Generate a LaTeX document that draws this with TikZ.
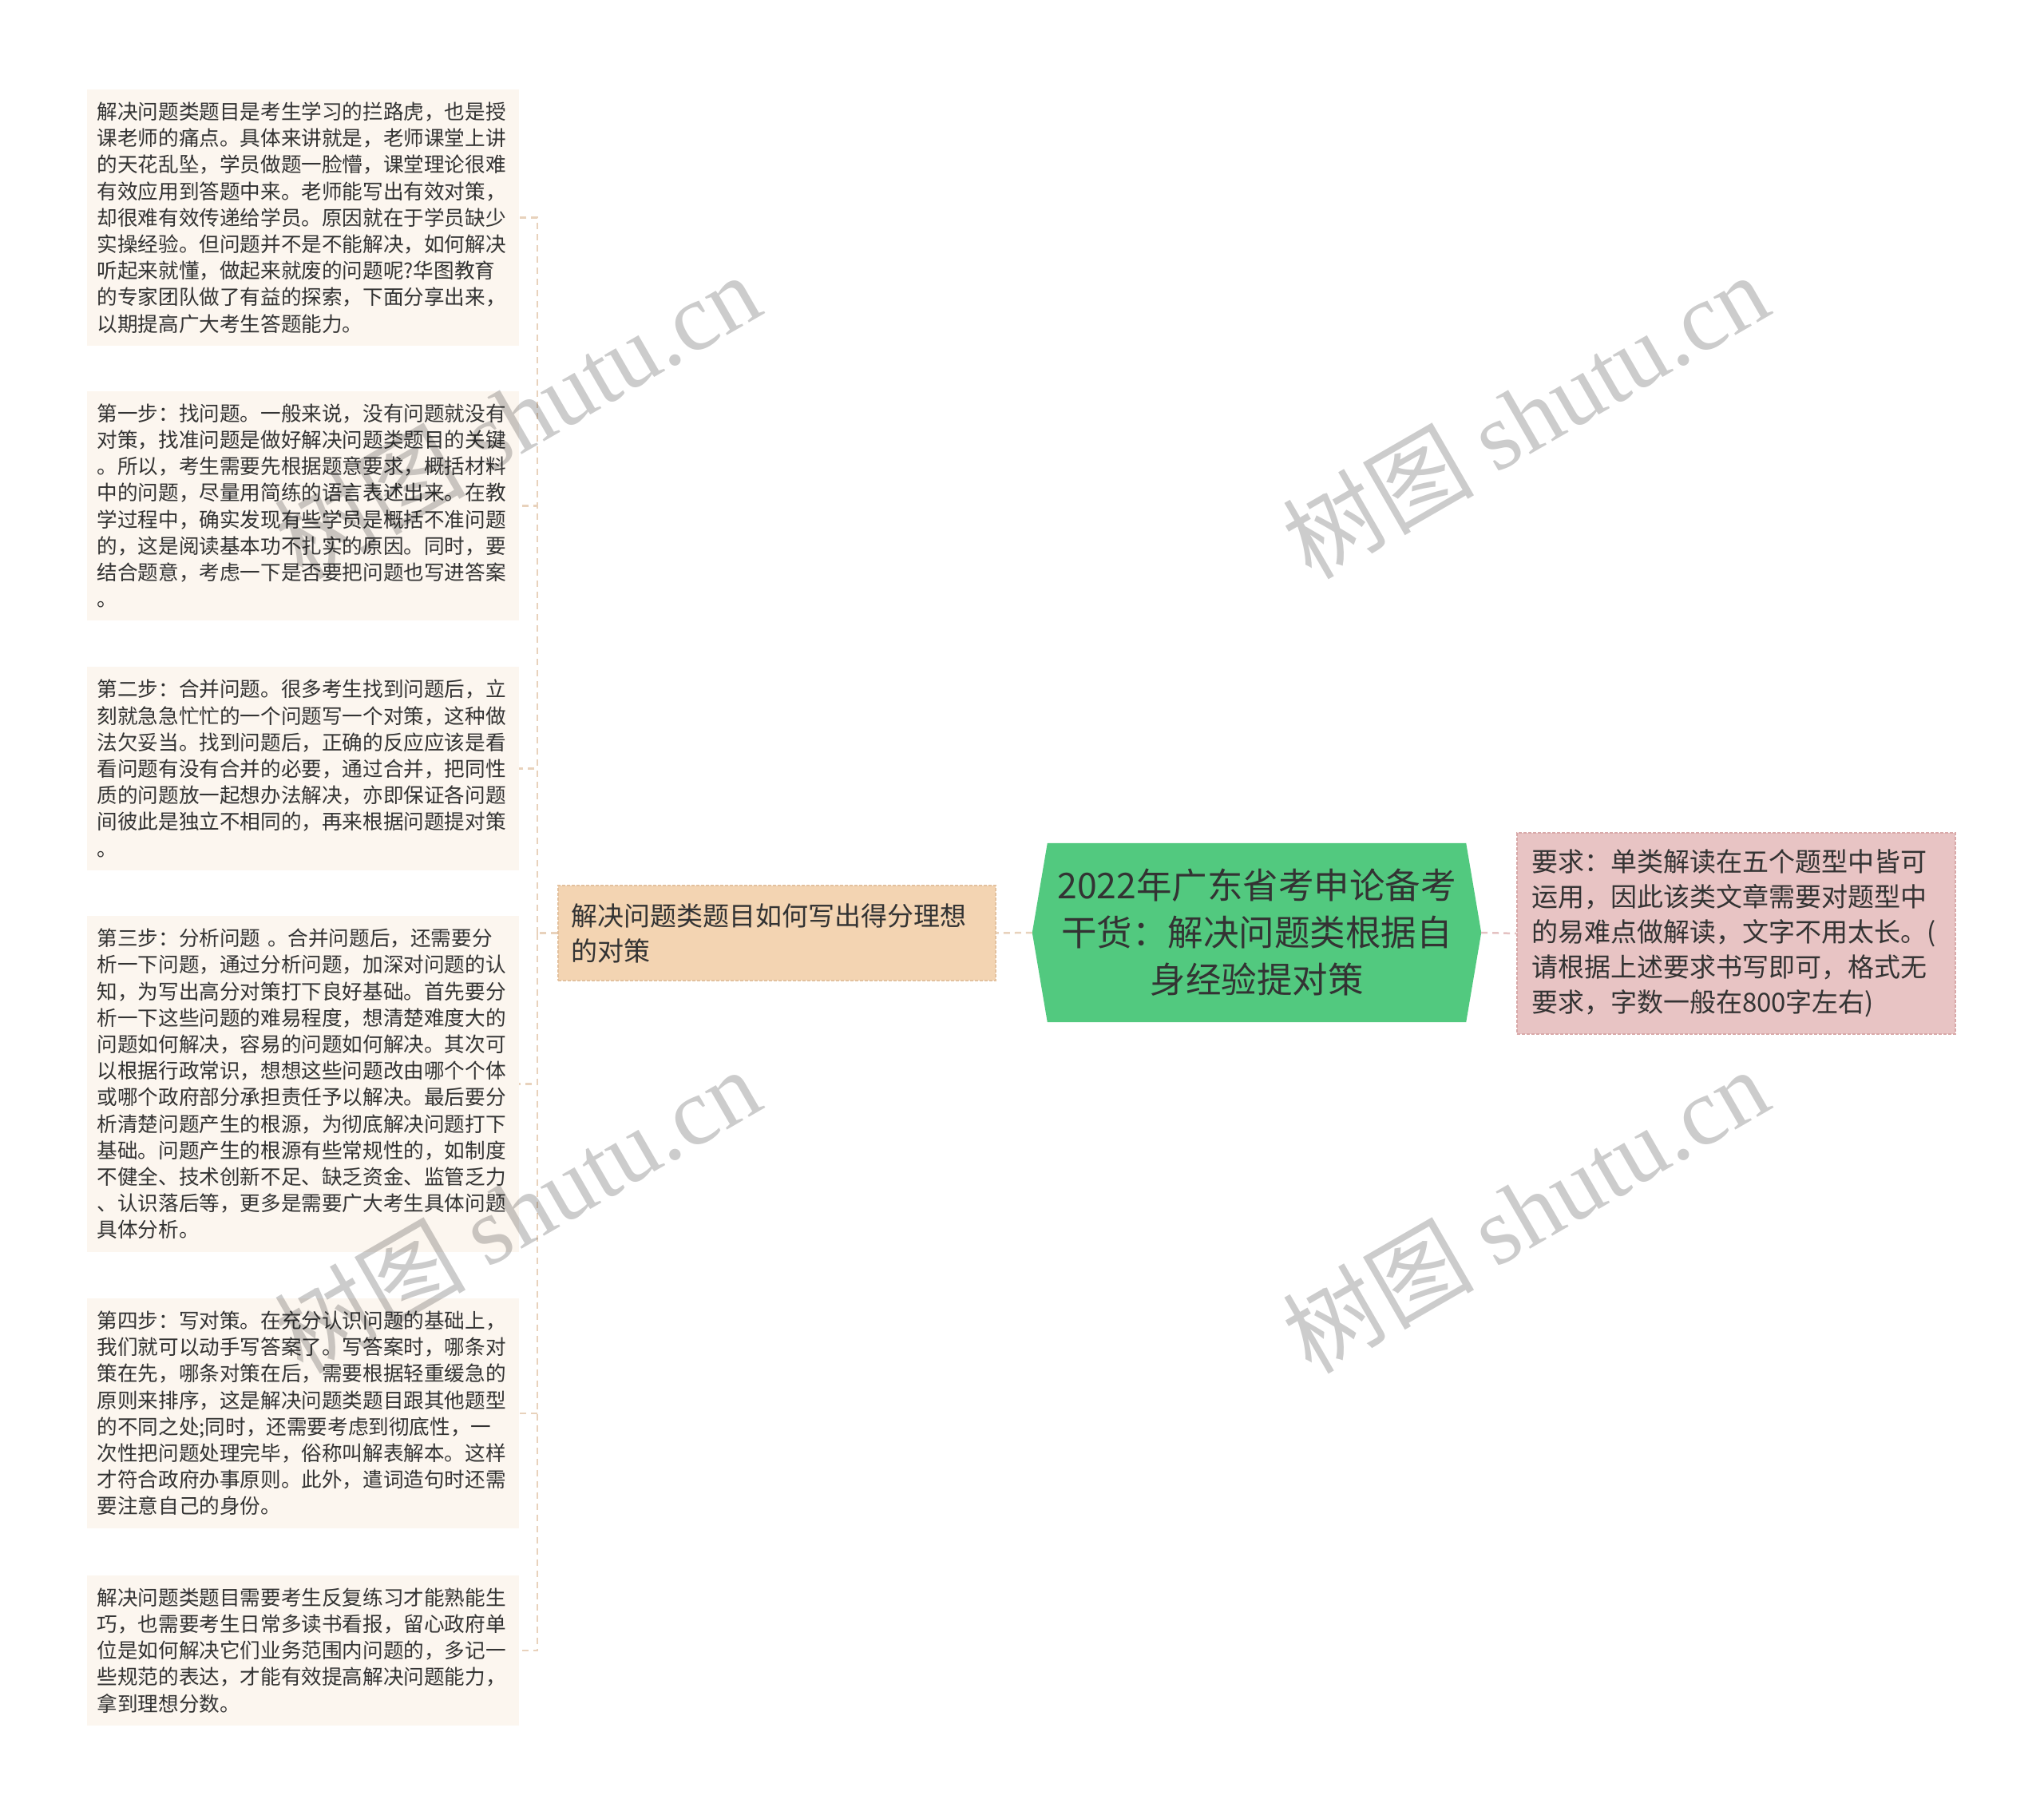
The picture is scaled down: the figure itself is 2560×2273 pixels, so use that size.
\documentclass[tikz,border=0pt]{standalone}
\usepackage{fontspec}
\setmainfont{Noto Sans CJK SC}
\newfontfamily\wmlatin{Liberation Serif}
\usetikzlibrary{backgrounds}
\definecolor{leaffill}{HTML}{FCF6EF}
\definecolor{tanfill}{HTML}{F3D4B2}
\definecolor{tanline}{HTML}{E3C19E}
\definecolor{hubgreen}{HTML}{52C97F}
\definecolor{pinkfill}{HTML}{E8C4C4}
\definecolor{pinkline}{HTML}{D8A8A8}
\definecolor{linktan}{HTML}{E8D2BC}
\definecolor{linkpink}{HTML}{E4C2C2}
\definecolor{inkgray}{HTML}{333333}

\begin{document}
\begin{tikzpicture}[x=1pt,y=-1pt,
  leaf/.style={fill=leaffill, text=inkgray, anchor=west, align=left,
    text width=516pt, inner xsep=12.5pt, inner ysep=16pt,
    font=\fontsize{25.6}{33.2}\selectfont},
  branchbox/.style={fill=tanfill, draw=tanline, dash pattern=on 4pt off 2pt,
    line width=1.2pt, text=inkgray, align=left, text width=516pt,
    inner xsep=16pt, minimum height=119pt, font=\fontsize{33}{44}\selectfont},
  hub/.style={text=inkgray, align=center, text width=510pt,
    minimum width=524pt, minimum height=224pt, inner sep=0pt,
    font=\fontsize{44.5}{59}\selectfont},
  notebox/.style={fill=pinkfill, draw=pinkline, dash pattern=on 4pt off 2pt,
    line width=1.2pt, text=inkgray, align=left, text width=513pt,
    inner xsep=18pt, minimum height=252pt, font=\fontsize{33}{44}\selectfont},
  link/.style={draw=linktan, line width=2.5pt, dash pattern=on 8pt off 6pt},
  wmtext/.style={text=black, text opacity=0.2, rotate=30, inner sep=0pt,
    font=\fontsize{120}{130}\selectfont}]

  \useasboundingbox (0,0) rectangle (2560,2273);

  % main topic
  \node[hub] (hub) at (1574,1168) {2022年广东省考申论备考\\干货：解决问题类根据自\\身经验提对策};
  \begin{scope}[on background layer]
    \fill[white] (0,0) rectangle (2560,2273);
    \fill[hubgreen] (hub.north west) -- (hub.north east) -- ([xshift=19pt]hub.east)
      -- (hub.south east) -- (hub.south west) -- ([xshift=-19pt]hub.west) -- cycle;
  \end{scope}

  \node[branchbox] (branch) at (973,1168.5) {解决问题类题目如何写出得分理想\\的对策};
  \node[notebox] (note) at (2174.5,1169) {要求：单类解读在五个题型中皆可\\运用，因此该类文章需要对题型中\\的易难点做解读，文字不用太长。(\\请根据上述要求书写即可，格式无\\要求，字数一般在800字左右)};

  % steps
  \node[leaf] (s1) at (109,272.5) {解决问题类题目是考生学习的拦路虎，也是授\\课老师的痛点。具体来讲就是，老师课堂上讲\\的天花乱坠，学员做题一脸懵，课堂理论很难\\有效应用到答题中来。老师能写出有效对策，\\却很难有效传递给学员。原因就在于学员缺少\\实操经验。但问题并不是不能解决，如何解决\\听起来就懂，做起来就废的问题呢?华图教育\\的专家团队做了有益的探索，下面分享出来，\\以期提高广大考生答题能力。};
  \node[leaf] (s2) at (109,633.5) {第一步：找问题。一般来说，没有问题就没有\\对策，找准问题是做好解决问题类题目的关键\\。所以，考生需要先根据题意要求，概括材料\\中的问题，尽量用简练的语言表述出来。在教\\学过程中，确实发现有些学员是概括不准问题\\的，这是阅读基本功不扎实的原因。同时，要\\结合题意，考虑一下是否要把问题也写进答案\\。};
  \node[leaf] (s3) at (109,962.5) {第二步：合并问题。很多考生找到问题后，立\\刻就急急忙忙的一个问题写一个对策，这种做\\法欠妥当。找到问题后，正确的反应应该是看\\看问题有没有合并的必要，通过合并，把同性\\质的问题放一起想办法解决，亦即保证各问题\\间彼此是独立不相同的，再来根据问题提对策\\。};
  \node[leaf] (s4) at (109,1357.5) {第三步：分析问题 。合并问题后，还需要分\\析一下问题，通过分析问题，加深对问题的认\\知，为写出高分对策打下良好基础。首先要分\\析一下这些问题的难易程度，想清楚难度大的\\问题如何解决，容易的问题如何解决。其次可\\以根据行政常识，想想这些问题改由哪个个体\\或哪个政府部分承担责任予以解决。最后要分\\析清楚问题产生的根源，为彻底解决问题打下\\基础。问题产生的根源有些常规性的，如制度\\不健全、技术创新不足、缺乏资金、监管乏力\\、认识落后等，更多是需要广大考生具体问题\\具体分析。};
  \node[leaf] (s5) at (109,1770) {第四步：写对策。在充分认识问题的基础上，\\我们就可以动手写答案了。写答案时，哪条对\\策在先，哪条对策在后，需要根据轻重缓急的\\原则来排序，这是解决问题类题目跟其他题型\\的不同之处;同时，还需要考虑到彻底性，一\\次性把问题处理完毕，俗称叫解表解本。这样\\才符合政府办事原则。此外，遣词造句时还需\\要注意自己的身份。};
  \node[leaf] (s6) at (109,2067) {解决问题类题目需要考生反复练习才能熟能生\\巧，也需要考生日常多读书看报，留心政府单\\位是如何解决它们业务范围内问题的，多记一\\些规范的表达，才能有效提高解决问题能力，\\拿到理想分数。};

  % links
  \draw[link] (hub.west) ++(-19,0) -- (branch.east);
  \draw[link, draw=linkpink] (hub.east) ++(19,0) -- (note.west);
  \coordinate (fork) at (673,1168.5);
  \draw[link] (branch.west) -- (fork);
  \foreach \s in {s1,s2,s3,s4,s5,s6}
    \draw[link] (fork) |- (\s.east);

  % watermarks
  \node[wmtext] (wm1) at (647,520) {树图 {\wmlatin shutu.cn}};
  \node[wmtext] (wm2) at (1910,520) {树图 {\wmlatin shutu.cn}};
  \node[wmtext] (wm3) at (647,1515) {树图 {\wmlatin shutu.cn}};
  \node[wmtext] (wm4) at (1910,1515) {树图 {\wmlatin shutu.cn}};

\end{tikzpicture}
\end{document}
